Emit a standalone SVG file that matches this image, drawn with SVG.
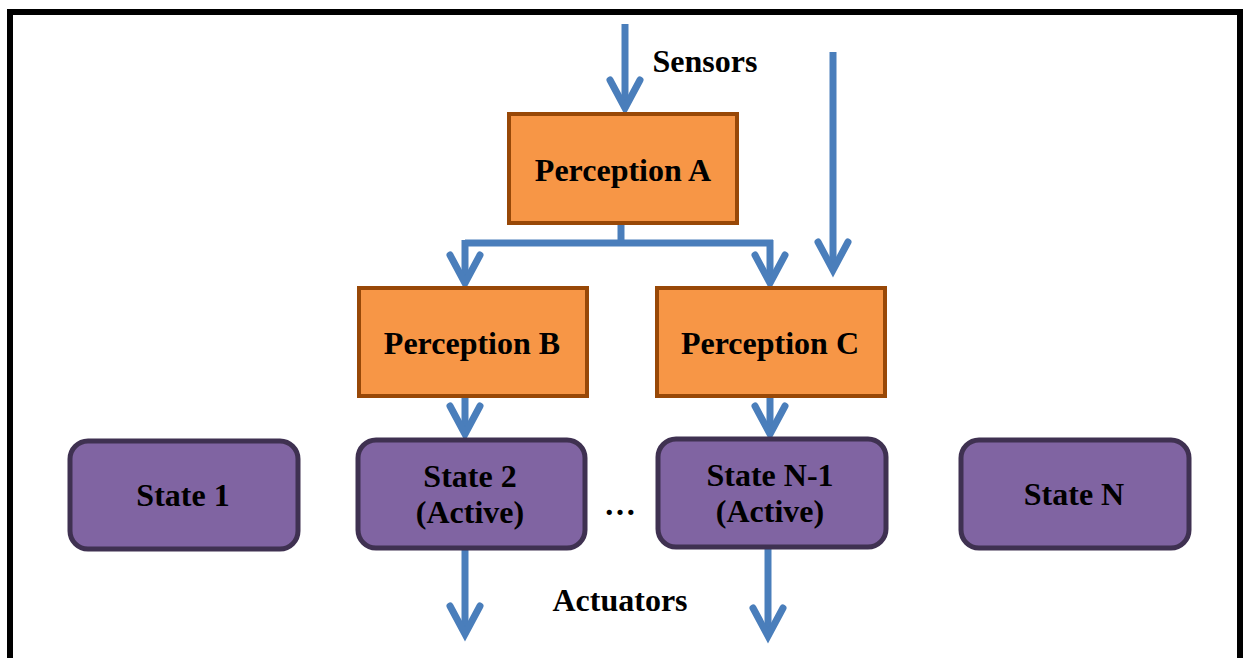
<svg xmlns="http://www.w3.org/2000/svg" width="1243" height="658" viewBox="0 0 1243 658">
  <style>
    .frame { fill: none; stroke: #000; stroke-width: 6; }
    .perc { fill: #F79646; stroke: #984807; stroke-width: 4; }
    .state { fill: #8064A2; stroke: #3F3151; stroke-width: 5; }
    .lbl { font-family: "Liberation Serif", "Times New Roman", serif; font-weight: bold; font-size: 32px; fill: #000; text-anchor: middle; }
    .wire { fill: none; stroke: #4A7EBB; stroke-width: 7; }
  </style>
  <defs>
    <marker id="chev" markerUnits="userSpaceOnUse" viewBox="-36 -22 42 44" refX="0" refY="0" markerWidth="42" markerHeight="44" orient="auto" overflow="visible">
      <path d="M -28,-15 L 0,0 L -28,15" fill="none" stroke="#4A7EBB" stroke-width="7" stroke-linecap="round" stroke-linejoin="miter"/>
    </marker>
  </defs>

  <rect width="1243" height="658" fill="#fff"/>
  <rect class="frame" x="10" y="12" width="1230" height="700"/>

  <g id="connectors">
    <path class="wire" d="M625,24 L625,108" marker-end="url(#chev)"/>
    <path class="wire" d="M621,224 L621,243"/>
    <path class="wire" d="M465,243 L773,243"/>
    <path class="wire" d="M465,240 L465,283" marker-end="url(#chev)"/>
    <path class="wire" d="M770,240 L770,283" marker-end="url(#chev)"/>
    <path class="wire" d="M833,52 L833,270" marker-end="url(#chev)"/>
    <path class="wire" d="M465,397 L465,434" marker-end="url(#chev)"/>
    <path class="wire" d="M770,397 L770,434" marker-end="url(#chev)"/>
    <path class="wire" d="M465,550 L465,634" marker-end="url(#chev)"/>
    <path class="wire" d="M768,549 L768,636" marker-end="url(#chev)"/>
  </g>

  <text class="lbl" x="705" y="72" font-size="30">Sensors</text>
  <text class="lbl" x="620" y="611" font-size="30">Actuators</text>
  <text class="lbl" x="620" y="515">…</text>

  <g id="perception-a">
    <rect class="perc" x="509" y="114" width="228" height="109"/>
    <text class="lbl" x="623" y="181">Perception A</text>
  </g>
  <g id="perception-b">
    <rect class="perc" x="359" y="288" width="228" height="108"/>
    <text class="lbl" x="472" y="354">Perception B</text>
  </g>
  <g id="perception-c">
    <rect class="perc" x="657" y="288" width="228" height="108"/>
    <text class="lbl" x="770" y="354">Perception C</text>
  </g>

  <g id="state-1">
    <rect class="state" x="70" y="441" width="228" height="108" rx="18"/>
    <text class="lbl" x="183" y="506">State 1</text>
  </g>
  <g id="state-2">
    <rect class="state" x="358" y="440" width="227" height="108" rx="18"/>
    <text class="lbl" x="470" y="487">State 2</text>
    <text class="lbl" x="470" y="523">(Active)</text>
  </g>
  <g id="state-n-1">
    <rect class="state" x="658" y="439" width="228" height="108" rx="18"/>
    <text class="lbl" x="770" y="486">State N-1</text>
    <text class="lbl" x="770" y="522">(Active)</text>
  </g>
  <g id="state-n">
    <rect class="state" x="961" y="440" width="228" height="108" rx="18"/>
    <text class="lbl" x="1074" y="505">State N</text>
  </g>
</svg>
